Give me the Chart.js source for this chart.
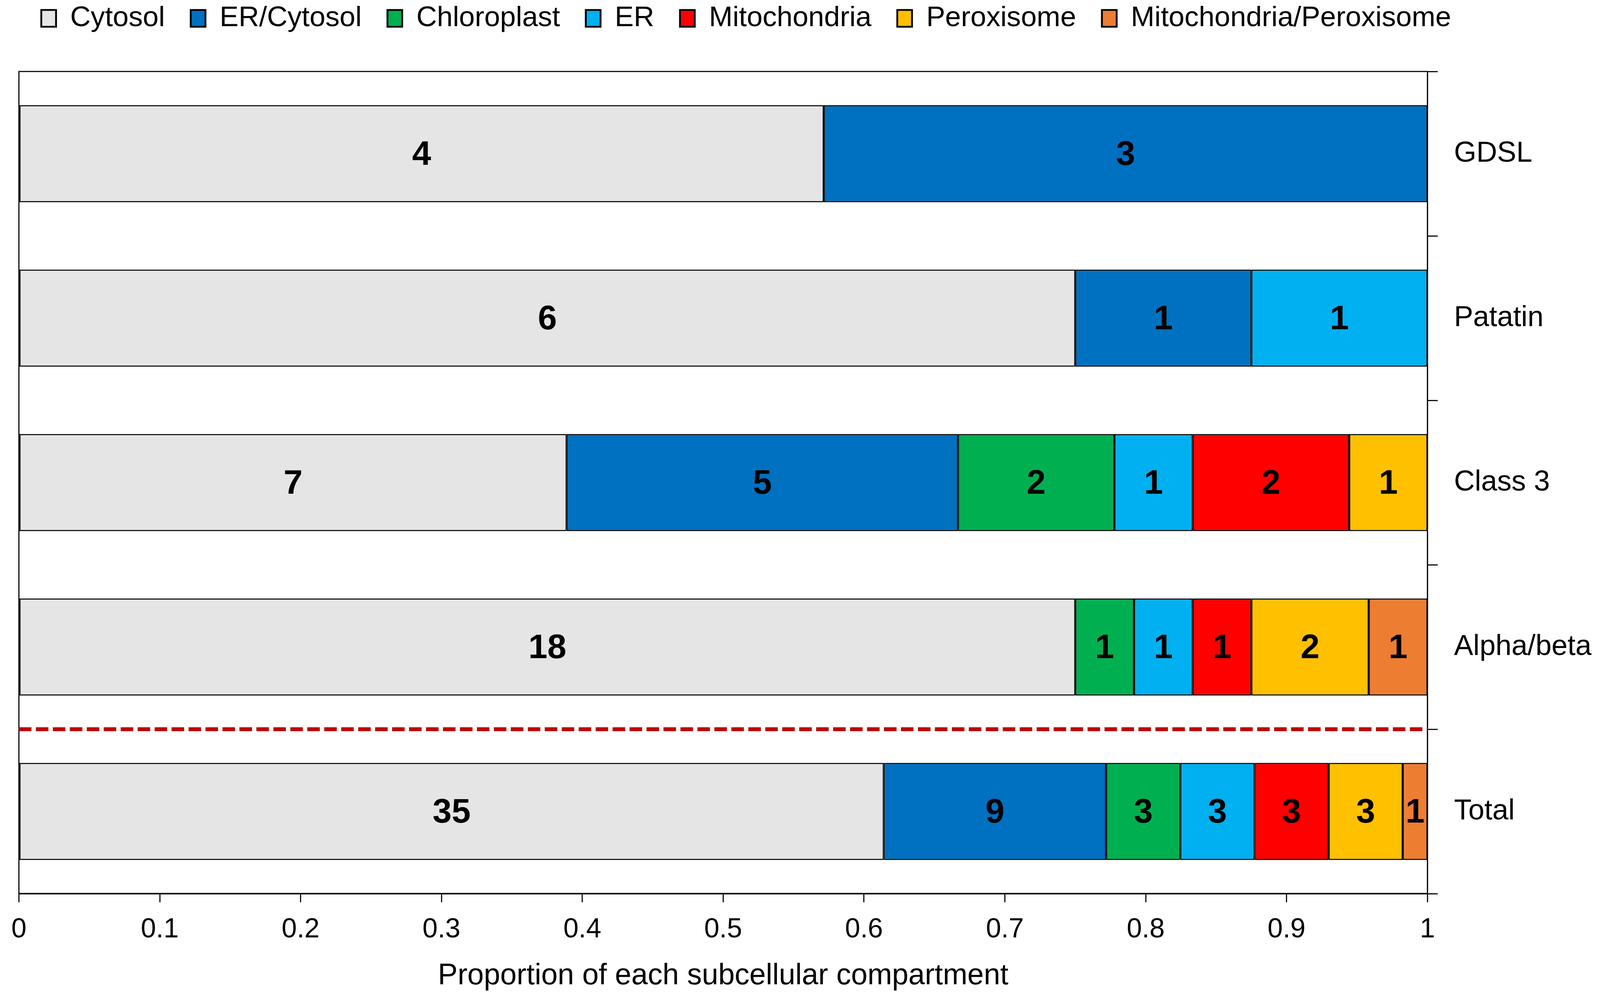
<!DOCTYPE html>
<html>
<head>
<meta charset="utf-8">
<script src="https://cdn.jsdelivr.net/npm/chart.js@4.4.1/dist/chart.umd.min.js"></script>
<style>
  html, body { margin: 0; padding: 0; background: #ffffff; overflow: hidden; }
  #c { display: block; }
</style>
</head>
<body>
<canvas id="c"></canvas>
<script>
// ---- Data (counts per subcellular compartment) ----
const categories = ['GDSL', 'Patatin', 'Class 3', 'Alpha/beta', 'Total'];
const seriesNames = ['Cytosol', 'ER/Cytosol', 'Chloroplast', 'ER', 'Mitochondria', 'Peroxisome', 'Mitochondria/Peroxisome'];
const cytosol      = [4, 6, 7, 18, 35];
const erCytosol    = [3, 1, 5, 0, 9];
const chloroplast  = [0, 0, 2, 1, 3];
const er           = [0, 1, 1, 1, 3];
const mitochondria = [0, 0, 2, 1, 3];
const peroxisome   = [0, 0, 1, 2, 3];
const mitoPerox    = [0, 0, 0, 1, 1];
const xTicks = [0, 0.1, 0.2, 0.3, 0.4, 0.5, 0.6, 0.7, 0.8, 0.9, 1];

const seriesCounts = [cytosol, erCytosol, chloroplast, er, mitochondria, peroxisome, mitoPerox];
const seriesColors = ['#E5E5E5', '#0070C0', '#00B050', '#00B0F0', '#FF0000', '#FFC000', '#ED7D31'];

const rowTotals = categories.map((_, i) => seriesCounts.reduce((s, arr) => s + arr[i], 0));

// ---- Sizing: fit the 4339 x 2550 design into the actual viewport ----
const W = window.innerWidth || 4339;
const H = window.innerHeight || 2550;
const SX = W / 4339, SY = H / 2550, S = Math.min(SX, SY);
const SM = (SX + SY) / 2;

const canvas = document.getElementById('c');
canvas.width = W; canvas.height = H;
canvas.style.width = W + 'px'; canvas.style.height = H + 'px';

const FONT = '"Liberation Sans", Arial, Helvetica, sans-serif';

// legend geometry
const LEG_FONT = 77 * S, LEG_BOX_W = 40 * SX, LEG_BOX_H = 43 * SY, LEG_PAD = 70 * SX;
const LEG_ITEM_H = Math.max(LEG_FONT, LEG_BOX_H);
const LEG_H = LEG_ITEM_H + LEG_PAD + 10;
const PAD_TOP = 183 * SY - LEG_H;                // chart area top at 183
const LEG_SHIFT = PAD_TOP + LEG_PAD + LEG_ITEM_H / 2 - 47 * SY; // legend row centre at 47

const datasets = seriesNames.map((name, k) => ({
  label: name,
  counts: seriesCounts[k],
  data: seriesCounts[k].map((v, i) => v === 0 ? null : v / rowTotals[i]),
  backgroundColor: seriesColors[k],
  borderColor: '#000000',
  borderWidth: 3 * S,
  borderSkipped: false,
  categoryPercentage: 1.0,
  barPercentage: 0.59
}));

// Frame around plot area
const framePlugin = {
  id: 'frame',
  afterDatasetsDraw(chart) {
    const {ctx, chartArea: a} = chart;
    ctx.save();
    ctx.strokeStyle = '#000';
    ctx.lineWidth = 3 * S;
    ctx.strokeRect(a.left, a.top, a.right - a.left, a.bottom - a.top);
    ctx.restore();
  }
};

// Dashed separator between Alpha/beta and Total
const separatorPlugin = {
  id: 'separator',
  afterDatasetsDraw(chart) {
    const {ctx, chartArea: a, scales: {y}} = chart;
    const py = (y.getPixelForValue(3) + y.getPixelForValue(4)) / 2;
    ctx.save();
    ctx.strokeStyle = '#C00000';
    ctx.lineWidth = 10 * SY;
    ctx.setLineDash([34 * SX, 12 * SX]);
    ctx.beginPath();
    ctx.moveTo(a.left, py);
    ctx.lineTo(a.right, py);
    ctx.stroke();
    ctx.restore();
  }
};

// Count labels centered in each segment
const countLabels = {
  id: 'countLabels',
  afterDatasetsDraw(chart) {
    const {ctx} = chart;
    ctx.save();
    ctx.font = 'bold ' + (90 * SM) + 'px ' + FONT;
    ctx.fillStyle = '#000';
    ctx.textAlign = 'center';
    ctx.textBaseline = 'middle';
    chart.data.datasets.forEach((ds, di) => {
      const meta = chart.getDatasetMeta(di);
      meta.data.forEach((el, i) => {
        const c = ds.counts[i];
        if (!c) return;
        const p = el.getCenterPoint();
        ctx.fillText(String(c), p.x, p.y + 4 * SY);
      });
    });
    ctx.restore();
  }
};

// Move legend into the top band
const legendShift = {
  id: 'legendShift',
  afterLayout(chart) {
    const l = chart.legend;
    if (!l) return;
    l.top -= LEG_SHIFT; l.bottom -= LEG_SHIFT;
    l.left += 6 * SX; l.right += 6 * SX;
  }
};

new Chart(canvas, {
  type: 'bar',
  data: { labels: categories, datasets },
  options: {
    indexAxis: 'y',
    responsive: false,
    animation: false,
    layout: { padding: { top: PAD_TOP, left: 36 * SX, right: 0, bottom: 0 } },
    plugins: {
      legend: {
        position: 'top',
        align: 'start',
        labels: {
          color: '#000',
          font: { family: FONT, size: LEG_FONT },
          boxWidth: LEG_BOX_W,
          boxHeight: LEG_BOX_H,
          padding: LEG_PAD,
          generateLabels(chart) {
            return Chart.defaults.plugins.legend.labels.generateLabels(chart).map(it => ({...it, lineWidth: 5 * S}));
          }
        }
      },
      tooltip: { enabled: false },
      title: { display: false }
    },
    scales: {
      x: {
        stacked: true,
        min: 0,
        max: 1,
        afterBuildTicks(scale) { scale.ticks = xTicks.map(v => ({value: v})); },
        afterFit(scale) { scale.height = 262 * SY; },
        ticks: {
          color: '#000',
          font: { family: FONT, size: 74 * S },
          padding: 29 * SY,
          maxRotation: 0,
          callback: (v) => String(Math.round(v * 10) / 10)
        },
        grid: {
          drawOnChartArea: false,
          drawTicks: true,
          tickLength: 22 * SY,
          color: '#000',
          lineWidth: 3 * S
        },
        border: { display: true, color: '#000', width: 4 * S },
        title: {
          display: true,
          text: 'Proportion of each subcellular compartment',
          color: '#000',
          font: { family: FONT, size: 80 * S },
          padding: { top: 20 * SY, bottom: 6 * SY }
        }
      },
      y: {
        stacked: true,
        position: 'right',
        afterFit(scale) { scale.width = 468 * SX; },
        ticks: {
          color: '#000',
          font: { family: FONT, size: 78 * S },
          padding: 44 * SX
        },
        grid: {
          offset: true,
          drawOnChartArea: false,
          drawTicks: true,
          tickLength: 28 * SX,
          color: '#000',
          lineWidth: 3 * S
        },
        border: { display: true, color: '#000', width: 3 * S }
      }
    }
  },
  plugins: [framePlugin, separatorPlugin, countLabels, legendShift]
});
</script>
</body>
</html>
